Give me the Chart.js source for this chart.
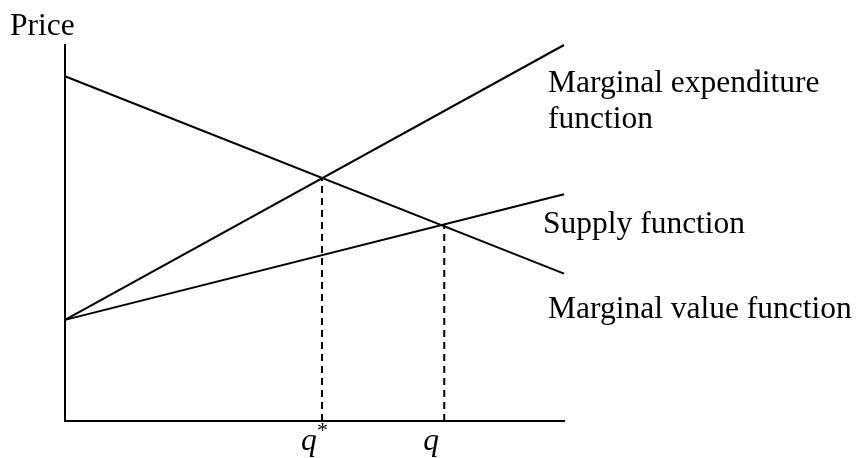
<!DOCTYPE html>
<html>
<head>
<meta charset="utf-8">
<script src="https://cdn.jsdelivr.net/npm/chart.js@4/dist/chart.umd.min.js"></script>
<style>
  html, body { margin: 0; padding: 0; background: #fff; }
  canvas { display: block; }
</style>
</head>
<body>
<canvas id="chart" width="860" height="458"></canvas>
<script>
// quantity range (x) and the price at both ends of each curve
const quantity = [0, 10];
const marginalValue = [9.17, 3.92];
const marginalExpenditure = [2.69, 10];
const supply = [2.69, 6.03];

// the two marked quantities and the price where their dashed line stops
const markedQuantities = [5.15, 7.6];
const markedPrices = [6.46, 5.2];
const markedLabels = ['q', 'q'];
const markedSuperscripts = ['*', ''];

const curveLabels = {
  expenditure: ['Marginal expenditure', 'function'],
  supply: ['Supply function'],
  value: ['Marginal value function']
};
const yTitle = 'Price';

const SERIF = '"Liberation Serif", "Times New Roman", serif';

function curve(values) {
  return quantity.map((q, i) => ({ x: q, y: values[i] }));
}

function dropLine(i) {
  return [{ x: markedQuantities[i], y: 0 }, { x: markedQuantities[i], y: markedPrices[i] }];
}

const solid = { borderColor: '#000', borderWidth: 2, pointRadius: 0, showLine: true, clip: false, fill: false };
const dashed = Object.assign({}, solid, { borderWidth: 2, borderDash: [7, 5] });

const textPlugin = {
  id: 'textLabels',
  afterDraw(chart) {
    const ctx = chart.ctx;
    const x = chart.scales.x;
    ctx.save();
    ctx.fillStyle = '#000';
    ctx.textBaseline = 'alphabetic';
    ctx.textAlign = 'left';
    ctx.font = '31.5px ' + SERIF;

    ctx.fillText(yTitle, 10, 35);

    ctx.fillText(curveLabels.expenditure[0], 548, 92);
    ctx.fillText(curveLabels.expenditure[1], 548, 128);
    ctx.fillText(curveLabels.supply[0], 543, 233);
    ctx.fillText(curveLabels.value[0], 548, 318);

    markedQuantities.forEach((q, i) => {
      const px = x.getPixelForValue(q);
      ctx.font = 'italic 31.5px ' + SERIF;
      ctx.fillText(markedLabels[i], px - 21, 450);
      if (markedSuperscripts[i]) {
        ctx.font = '22px ' + SERIF;
        ctx.fillText(markedSuperscripts[i], px - 5, 437);
      }
    });
    ctx.restore();
  }
};

new Chart(document.getElementById('chart'), {
  type: 'scatter',
  data: {
    datasets: [
      Object.assign({ label: 'Marginal value', data: curve(marginalValue) }, solid),
      Object.assign({ label: 'Marginal expenditure', data: curve(marginalExpenditure) }, solid),
      Object.assign({ label: 'Supply', data: curve(supply) }, solid),
      Object.assign({ label: 'q*', data: dropLine(0) }, dashed),
      Object.assign({ label: 'q', data: dropLine(1) }, dashed)
    ]
  },
  options: {
    responsive: false,
    animation: false,
    layout: { padding: { left: 57, right: 296, top: 45, bottom: 29 } },
    plugins: { legend: { display: false }, tooltip: { enabled: false } },
    scales: {
      x: {
        type: 'linear', min: 0, max: 10,
        grid: { display: false },
        ticks: { display: false },
        border: { display: true, color: '#000', width: 2 }
      },
      y: {
        type: 'linear', min: 0, max: 10,
        grid: { display: false },
        ticks: { display: false },
        border: { display: true, color: '#000', width: 2 }
      }
    }
  },
  plugins: [textPlugin]
});
</script>
</body>
</html>
